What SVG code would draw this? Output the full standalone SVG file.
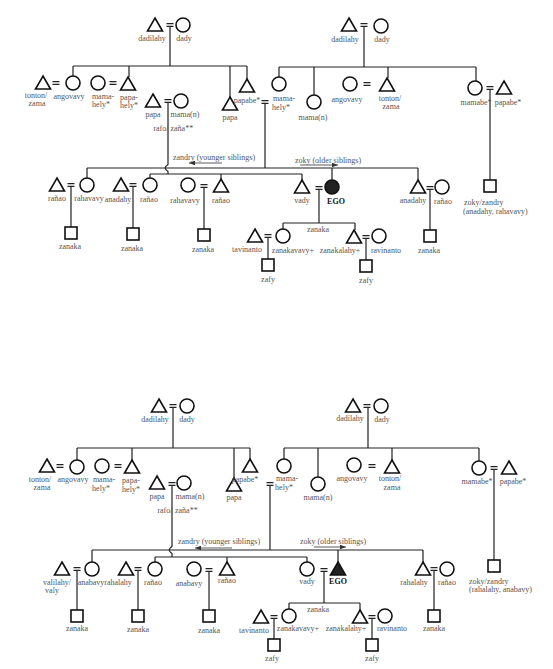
<svg xmlns="http://www.w3.org/2000/svg" xmlns:xlink="http://www.w3.org/1999/xlink" width="553" height="669" viewBox="0 0 553 669">
<style>
.n{fill:#fff;stroke:#111;stroke-width:1.6}
.ego{fill:#222;stroke:#111;stroke-width:1.6}
.l{fill:none;stroke:#222;stroke-width:1.2}
.a{fill:none;stroke:#333;stroke-width:0.8}
text{font-family:"Liberation Serif","Times New Roman",serif;font-size:8px;fill:#555;text-anchor:middle}
.s{text-anchor:start}
.e{text-anchor:end}
.b{font-weight:bold;fill:#111}
</style>
<defs>
<path id="tri" d="M0,-7 L7.5,6 L-7.5,6 Z"/>
<circle id="cir" r="7"/>
<rect id="sq" x="-6" y="-6" width="12" height="12"/>
<path id="eq" d="M-3.5,-1.3 H3.5 M-3.5,1.3 H3.5"/>
<marker id="ar" viewBox="0 0 8 6" refX="8" refY="3" markerWidth="6" markerHeight="4.5" orient="auto-start-reverse" markerUnits="userSpaceOnUse">
<path d="M0,0 L8,3 L0,6 Z" fill="#333"/>
</marker>
</defs>

<!-- ================= TOP DIAGRAM ================= -->
<g id="top-connectors">
<g class="l">
<use href="#eq" x="170" y="25"/>
<use href="#eq" x="364" y="25"/>
<use href="#eq" x="56" y="83"/>
<use href="#eq" x="113" y="83"/>
<use href="#eq" x="168" y="101"/>
<use href="#eq" x="265" y="102"/>
<use href="#eq" x="367" y="84"/>
<use href="#eq" x="490" y="88"/>
<use href="#eq" x="71" y="185"/>
<use href="#eq" x="133" y="185"/>
<use href="#eq" x="204" y="186"/>
<use href="#eq" x="319" y="188"/>
<use href="#eq" x="268" y="236"/>
<use href="#eq" x="366" y="237"/>
<use href="#eq" x="430" y="188"/>
<path d="M170,27 V66 M73,66 H247 M73,66 V76 M129,66 V77 M230,66 V97 M247,66 V79"/>
<path d="M364,27 V67 M279,67 H476 M279,67 V77 M314,67 V95 M388,67 V78 M476,67 V81"/>
<path d="M168,103 V164.5 Q162.5,168 168,171.5 V174"/>
<path d="M265,104 V168"/>
<path d="M490,90 V180"/>
<path d="M87,168 H418 M87,168 V178 M332,168 V180 M418,168 V180"/>
<path d="M150,174 H302 M150,174 V178 M221,174 V179 M302,174 V180"/>
<path d="M71,187 V227 M133,187 V228 M204,188 V229 M430,190 V230"/>
<path d="M319,190 V223 M283,223 H355 M283,223 V229 M355,223 V230"/>
<path d="M268,238 V259 M366,239 V260"/>
</g>
<path class="a" d="M222,163 H189" marker-end="url(#ar)"/>
<path class="a" d="M300,165 H338" marker-end="url(#ar)"/>
</g>

<g id="t-dadilahy-l"><use href="#tri" x="155" y="25" class="n"/><text x="152" y="40.5">dadilahy</text></g>
<g id="t-dady-l"><use href="#cir" x="183" y="25" class="n"/><text x="184" y="40.5">dady</text></g>
<g id="t-tonton-l"><use href="#tri" x="43" y="83" class="n"/><text x="36" y="97.5">tonton/</text><text x="37" y="105.5">zama</text></g>
<g id="t-angovavy-l"><use href="#cir" x="73" y="83" class="n"/><text x="69" y="98.5">angovavy</text></g>
<g id="t-mamahely-l"><use href="#cir" x="98" y="83" class="n"/><text x="103" y="98.5">mama-</text><text x="101" y="107">hely*</text></g>
<g id="t-papahely-l"><use href="#tri" x="128" y="84" class="n"/><text x="129" y="99.5">papa-</text><text x="129" y="107.5">hely*</text></g>
<g id="t-papa-1"><use href="#tri" x="153" y="101" class="n"/><text x="153" y="116.5">papa</text></g>
<g id="t-maman-l"><use href="#cir" x="181" y="101" class="n"/><text x="185" y="116.5">mama(n)</text></g>
<g id="t-rafozana"><text x="168.5" y="130.5" class="e">rafo/</text><text x="170.5" y="130.5" class="s">zaña**</text></g>
<g id="t-papa-2"><use href="#tri" x="230" y="104" class="n"/><text x="230" y="119.5">papa</text></g>
<g id="t-papabe-l"><use href="#tri" x="247" y="86" class="n"/><text x="247" y="102.5">papabe*</text></g>
<g id="t-mamahely-r"><use href="#cir" x="279" y="84" class="n"/><text x="284" y="100.5">mama-</text><text x="281" y="109.5">hely*</text></g>
<g id="t-maman-r"><use href="#cir" x="314" y="102" class="n"/><text x="313" y="119.5">mama(n)</text></g>
<g id="t-angovavy-r"><use href="#cir" x="350" y="84" class="n"/><text x="347" y="101.5">angovavy</text></g>
<g id="t-tonton-r"><use href="#tri" x="387" y="85" class="n"/><text x="390" y="100.5">tonton/</text><text x="391" y="108.5">zama</text></g>
<g id="t-mamabe"><use href="#cir" x="475" y="88" class="n"/><text x="476" y="104.5">mamabe*</text></g>
<g id="t-papabe-r"><use href="#tri" x="504" y="88" class="n"/><text x="508" y="104.5">papabe*</text></g>
<g id="t-dadilahy-r"><use href="#tri" x="349" y="25" class="n"/><text x="345" y="41.5">dadilahy</text></g>
<g id="t-dady-r"><use href="#cir" x="381" y="26" class="n"/><text x="382" y="42">dady</text></g>
<g id="t-zandry-label"><text x="214" y="160">zandry (younger siblings)</text></g>
<g id="t-zoky-label"><text x="328" y="163">zoky (older siblings)</text></g>

<g id="t-ranao-1"><use href="#tri" x="57" y="185" class="n"/><text x="57" y="200.5">rañao</text></g>
<g id="t-rahavavy-1"><use href="#cir" x="87" y="185" class="n"/><text x="89" y="200.5">rahavavy</text></g>
<g id="t-zanaka-1"><use href="#sq" x="71" y="233" class="n"/><text x="70" y="248.5">zanaka</text></g>
<g id="t-anadahy-1"><use href="#tri" x="121" y="185" class="n"/><text x="118" y="201.5">anadahy</text></g>
<g id="t-ranao-2"><use href="#cir" x="150" y="185" class="n"/><text x="149" y="201.5">rañao</text></g>
<g id="t-zanaka-2"><use href="#sq" x="133" y="234" class="n"/><text x="132" y="250.5">zanaka</text></g>
<g id="t-rahavavy-2"><use href="#cir" x="188" y="185" class="n"/><text x="185" y="202.5">rahavavy</text></g>
<g id="t-ranao-3"><use href="#tri" x="221" y="186" class="n"/><text x="221" y="202.5">rañao</text></g>
<g id="t-zanaka-3"><use href="#sq" x="204" y="235" class="n"/><text x="203" y="251.5">zanaka</text></g>
<g id="t-vady"><use href="#tri" x="302" y="187" class="n"/><text x="302" y="202.5">vady</text></g>
<g id="t-ego"><use href="#cir" x="332" y="187" class="ego"/><text x="336" y="203.5" class="b">EGO</text></g>
<g id="t-zanaka-ego"><text x="318" y="232">zanaka</text></g>
<g id="t-tavinanto"><use href="#tri" x="255" y="236" class="n"/><text x="247" y="251.5">tavinanto</text></g>
<g id="t-zanakavavy"><use href="#cir" x="283" y="236" class="n"/><text x="293" y="252.5">zanakavavy+</text></g>
<g id="t-zafy-1"><use href="#sq" x="268" y="265" class="n"/><text x="268" y="281.5">zafy</text></g>
<g id="t-zanakalahy"><use href="#tri" x="354" y="237" class="n"/><text x="340" y="252.5">zanakalahy+</text></g>
<g id="t-ravinanto"><use href="#cir" x="379" y="236" class="n"/><text x="386" y="252.5">ravinanto</text></g>
<g id="t-zafy-2"><use href="#sq" x="366" y="266" class="n"/><text x="366" y="282.5">zafy</text></g>
<g id="t-anadahy-2"><use href="#tri" x="418" y="187" class="n"/><text x="413" y="202.5">anadahy</text></g>
<g id="t-ranao-4"><use href="#cir" x="442" y="187" class="n"/><text x="443" y="203.5">rañao</text></g>
<g id="t-zanaka-4"><use href="#sq" x="430" y="236" class="n"/><text x="429" y="252.5">zanaka</text></g>
<g id="t-zokyzandry"><use href="#sq" x="490" y="186" class="n"/><text x="464" y="204.5" class="s">zoky/zandry</text><text x="463" y="213.5" class="s">(anadahy, rahavavy)</text></g>

<!-- ================= BOTTOM DIAGRAM ================= -->
<g id="bottom-connectors">
<g class="l">
<use href="#eq" x="173" y="406"/>
<use href="#eq" x="367" y="406"/>
<use href="#eq" x="60" y="466"/>
<use href="#eq" x="118" y="466"/>
<use href="#eq" x="172" y="484"/>
<use href="#eq" x="270" y="484"/>
<use href="#eq" x="372" y="466"/>
<use href="#eq" x="494" y="468"/>
<use href="#eq" x="77" y="569"/>
<use href="#eq" x="138" y="569"/>
<use href="#eq" x="209" y="570"/>
<use href="#eq" x="324" y="570"/>
<use href="#eq" x="274" y="617"/>
<use href="#eq" x="372" y="617"/>
<use href="#eq" x="434" y="569"/>
<path d="M173,408 V448 M77,448 H250 M77,448 V460 M132,448 V460 M234,448 V478 M250,448 V459"/>
<path d="M368,408 V448 M284,448 H479 M284,448 V459 M318,448 V477 M392,448 V460 M479,448 V461"/>
<path d="M172,486 V546.5 Q166.5,550 172,553.5 V557"/>
<path d="M270,486 V550"/>
<path d="M494,470 V560"/>
<path d="M92,550 H423 M92,550 V562 M338,550 V562 M423,550 V562"/>
<path d="M155,557 H307 M155,557 V562 M227,557 V562 M307,557 V562"/>
<path d="M77,571 V610 M138,571 V610 M209,572 V610 M434,571 V610"/>
<path d="M324,572 V603 M289,603 H360 M289,603 V609 M360,603 V610"/>
<path d="M274,619 V639 M372,619 V639"/>
</g>
<path class="a" d="M232,548 H195" marker-end="url(#ar)"/>
<path class="a" d="M314,547 H346" marker-end="url(#ar)"/>
</g>

<g id="b-dadilahy-l"><use href="#tri" x="159" y="406" class="n"/><text x="155" y="421.5">dadilahy</text></g>
<g id="b-dady-l"><use href="#cir" x="187" y="406" class="n"/><text x="187" y="421.5">dady</text></g>
<g id="b-tonton-l"><use href="#tri" x="47" y="466" class="n"/><text x="40" y="481.5">tonton/</text><text x="42" y="490">zama</text></g>
<g id="b-angovavy-l"><use href="#cir" x="77" y="467" class="n"/><text x="73" y="481.5">angovavy</text></g>
<g id="b-mamahely-l"><use href="#cir" x="102" y="466" class="n"/><text x="104" y="481.5">mama-</text><text x="101" y="490.5">hely*</text></g>
<g id="b-papahely-l"><use href="#tri" x="132" y="467" class="n"/><text x="131" y="482.5">papa-</text><text x="131" y="491.5">hely*</text></g>
<g id="b-papa-1"><use href="#tri" x="157" y="483" class="n"/><text x="157" y="498.5">papa</text></g>
<g id="b-maman-l"><use href="#cir" x="184" y="483" class="n"/><text x="190" y="498.5">mama(n)</text></g>
<g id="b-rafozana"><text x="172.5" y="512.5" class="e">rafo/</text><text x="175" y="512.5" class="s">zaña**</text></g>
<g id="b-papa-2"><use href="#tri" x="234" y="485" class="n"/><text x="234" y="499.5">papa</text></g>
<g id="b-papabe-l"><use href="#tri" x="250" y="466" class="n"/><text x="245" y="481.5">papabe*</text></g>
<g id="b-mamahely-r"><use href="#cir" x="284" y="466" class="n"/><text x="287" y="480.5">mama-</text><text x="284" y="489.5">hely*</text></g>
<g id="b-maman-r"><use href="#cir" x="318" y="484" class="n"/><text x="318" y="499.5">mama(n)</text></g>
<g id="b-angovavy-r"><use href="#cir" x="354" y="465" class="n"/><text x="352" y="480.5">angovavy</text></g>
<g id="b-tonton-r"><use href="#tri" x="392" y="467" class="n"/><text x="390" y="480.5">tonton/</text><text x="392" y="489.5">zama</text></g>
<g id="b-mamabe"><use href="#cir" x="479" y="468" class="n"/><text x="477" y="483.5">mamabe*</text></g>
<g id="b-papabe-r"><use href="#tri" x="509" y="468" class="n"/><text x="513" y="483.5">papabe*</text></g>
<g id="b-dadilahy-r"><use href="#tri" x="353" y="406" class="n"/><text x="350" y="420.5">dadilahy</text></g>
<g id="b-dady-r"><use href="#cir" x="381" y="406" class="n"/><text x="382" y="421.5">dady</text></g>
<g id="b-zandry-label"><text x="219" y="543.5">zandry (younger siblings)</text></g>
<g id="b-zoky-label"><text x="333" y="544">zoky (older siblings)</text></g>

<g id="b-valilahy"><use href="#tri" x="62" y="569" class="n"/><text x="57" y="584.5">valilahy/</text><text x="52" y="592.5">valy</text></g>
<g id="b-anabavy-1"><use href="#cir" x="92" y="569" class="n"/><text x="91" y="584.5">anabavy</text></g>
<g id="b-zanaka-1"><use href="#sq" x="77" y="616" class="n"/><text x="77" y="630.5">zanaka</text></g>
<g id="b-rahalahy-1"><use href="#tri" x="126" y="569" class="n"/><text x="118" y="584.5">rahalahy</text></g>
<g id="b-ranao-1"><use href="#cir" x="155" y="569" class="n"/><text x="153" y="584.5">rañao</text></g>
<g id="b-zanaka-2"><use href="#sq" x="138" y="616" class="n"/><text x="138" y="631.5">zanaka</text></g>
<g id="b-anabavy-2"><use href="#cir" x="194" y="569" class="n"/><text x="189" y="585.5">anabavy</text></g>
<g id="b-ranao-2"><use href="#tri" x="227" y="569" class="n"/><text x="227" y="582.5">rañao</text></g>
<g id="b-zanaka-3"><use href="#sq" x="209" y="616" class="n"/><text x="209" y="632.5">zanaka</text></g>
<g id="b-vady"><use href="#cir" x="307" y="569" class="n"/><text x="307" y="583.5">vady</text></g>
<g id="b-ego"><use href="#tri" x="338" y="569" class="ego"/><text x="338" y="583.5" class="b">EGO</text></g>
<g id="b-zanaka-ego"><text x="318" y="611.5">zanaka</text></g>
<g id="b-tavinanto"><use href="#tri" x="261" y="617" class="n"/><text x="254" y="632.5">tavinanto</text></g>
<g id="b-zanakavavy"><use href="#cir" x="289" y="616" class="n"/><text x="298" y="630.5">zanakavavy+</text></g>
<g id="b-zafy-1"><use href="#sq" x="274" y="645" class="n"/><text x="272" y="660.5">zafy</text></g>
<g id="b-zanakalahy"><use href="#tri" x="360" y="617" class="n"/><text x="346" y="630.5">zanakalahy+</text></g>
<g id="b-ravinanto"><use href="#cir" x="385" y="616" class="n"/><text x="392" y="630.5">ravinanto</text></g>
<g id="b-zafy-2"><use href="#sq" x="372" y="645" class="n"/><text x="372" y="660.5">zafy</text></g>
<g id="b-rahalahy-2"><use href="#tri" x="423" y="569" class="n"/><text x="414" y="584.5">rahalahy</text></g>
<g id="b-ranao-3"><use href="#cir" x="447" y="569" class="n"/><text x="447" y="584.5">rañao</text></g>
<g id="b-zanaka-4"><use href="#sq" x="434" y="616" class="n"/><text x="434" y="630.5">zanaka</text></g>
<g id="b-zokyzandry"><use href="#sq" x="494" y="566" class="n"/><text x="469" y="583.5" class="s">zoky/zandry</text><text x="469" y="592" class="s">(rahalahy, anabavy)</text></g>
</svg>
